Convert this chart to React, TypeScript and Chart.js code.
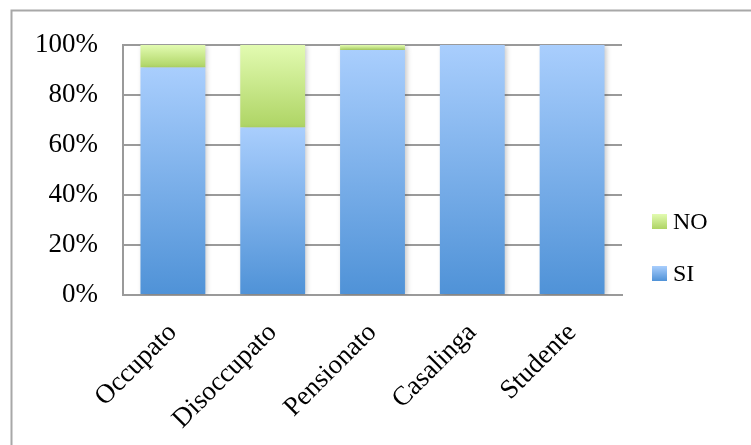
import React, { useEffect, useRef } from "react";
import { Chart, registerables } from "chart.js";

Chart.register(...registerables);

const categories = ["Occupato", "Disoccupato", "Pensionato", "Casalinga", "Studente"];
const siValues = [91, 67, 98, 100, 100];
const noValues = [9, 33, 2, 0, 0];
const yTicks = [0, 20, 40, 60, 80, 100];

const FONT = "'Liberation Serif', 'Times New Roman', serif";
const BLUE_TOP = "#a9cefd";
const BLUE_BOTTOM = "#4f92d7";
const GREEN_TOP = "#e2fbb1";
const GREEN_BOTTOM = "#aed464";

function segGradient(ctx: any, top: string, bottom: string, fallback: string) {
  const chart = ctx.chart;
  const area = chart.chartArea;
  if (!area || ctx.type !== "data") return fallback;
  const yScale = chart.scales.y;
  const di = ctx.datasetIndex;
  const idx = ctx.dataIndex;
  let base = 0;
  for (let d = 0; d < di; d++) base += Number(chart.data.datasets[d].data[idx]) || 0;
  const val = Number(chart.data.datasets[di].data[idx]) || 0;
  const yTop = yScale.getPixelForValue(base + val);
  const yBot = yScale.getPixelForValue(base);
  if (!isFinite(yTop) || !isFinite(yBot) || Math.abs(yBot - yTop) < 0.5) return fallback;
  const g = chart.ctx.createLinearGradient(0, yTop, 0, yBot);
  g.addColorStop(0, top);
  g.addColorStop(1, bottom);
  return g;
}

const framePlugin = {
  id: "frame",
  beforeDraw(chart: any) {
    const c = chart.ctx;
    c.save();
    c.fillStyle = "#ffffff";
    c.fillRect(0, 0, chart.width, chart.height);
    c.strokeStyle = "#a8a8a8";
    c.lineWidth = 2;
    c.beginPath();
    c.moveTo(11.5, chart.height + 5);
    c.lineTo(11.5, 10.5);
    c.lineTo(chart.width + 5, 10.5);
    c.stroke();
    c.restore();
  },
};

const shadowPlugin = {
  id: "barShadow",
  beforeDatasetsDraw(chart: any) {
    const c = chart.ctx;
    c.save();
    c.shadowColor = "rgba(0,0,0,0.22)";
    c.shadowBlur = 5;
    c.shadowOffsetX = 2;
    c.shadowOffsetY = 1;
  },
  afterDatasetsDraw(chart: any) {
    chart.ctx.restore();
  },
};

const legendPlugin = {
  id: "customLegend",
  afterDraw(chart: any) {
    const c = chart.ctx;
    const items = [
      { label: "NO", top: GREEN_TOP, bottom: GREEN_BOTTOM, y: 214 },
      { label: "SI", top: BLUE_TOP, bottom: BLUE_BOTTOM, y: 266 },
    ];
    const x = chart.chartArea.right + 30;
    c.save();
    for (const it of items) {
      const g = c.createLinearGradient(0, it.y, 0, it.y + 15);
      g.addColorStop(0, it.top);
      g.addColorStop(1, it.bottom);
      c.fillStyle = g;
      c.fillRect(x, it.y, 15, 15);
      c.fillStyle = "#000";
      c.font = `24px ${FONT}`;
      c.textBaseline = "middle";
      c.textAlign = "left";
      c.fillText(it.label, x + 21, it.y + 9);
    }
    c.restore();
  },
};

export default function App() {
  const ref = useRef<HTMLCanvasElement | null>(null);
  useEffect(() => {
    if (!ref.current) return;
    const chart = new Chart(ref.current, {
      type: "bar",
      data: {
        labels: categories,
        datasets: [
          {
            label: "SI",
            data: siValues,
            backgroundColor: (ctx: any) => segGradient(ctx, BLUE_TOP, BLUE_BOTTOM, BLUE_BOTTOM),
            borderWidth: 0,
            categoryPercentage: 0.65,
            barPercentage: 1,
          },
          {
            label: "NO",
            data: noValues,
            backgroundColor: (ctx: any) => segGradient(ctx, GREEN_TOP, GREEN_BOTTOM, GREEN_BOTTOM),
            borderWidth: 0,
            categoryPercentage: 0.65,
            barPercentage: 1,
          },
        ],
      },
      options: {
        animation: false,
        responsive: false,
        maintainAspectRatio: false,
        layout: { padding: { top: 45, right: 129, left: 0, bottom: 0 } },
        plugins: {
          legend: { display: false },
          tooltip: { enabled: false },
        },
        scales: {
          x: {
            stacked: true,
            grid: { display: false, drawTicks: false },
            border: { display: true, color: "#9a9a9a", width: 2 },
            ticks: {
              color: "#000",
              font: { family: FONT, size: 27 },
              minRotation: 45,
              maxRotation: 45,
              padding: 22,
            },
            afterFit: (s: any) => {
              s.height = 150;
            },
          },
          y: {
            stacked: true,
            min: 0,
            max: 100,
            afterBuildTicks: (s: any) => {
              s.ticks = yTicks.map((v) => ({ value: v }));
            },
            grid: { color: "#9a9a9a", lineWidth: 2, drawTicks: false },
            border: { display: true, color: "#9a9a9a", width: 2 },
            ticks: {
              color: "#000",
              font: { family: FONT, size: 27 },
              padding: 25,
              callback: (v: any) => `${v}%`,
            },
            afterFit: (s: any) => {
              s.width = 123;
            },
          },
        },
      },
      plugins: [framePlugin, shadowPlugin, legendPlugin],
    });
    return () => chart.destroy();
  }, []);
  return (
    <div style={{ position: "fixed", left: 0, top: 0, width: 751, height: 445, background: "#fff" }}>
      <canvas ref={ref} width={751} height={445} style={{ width: 751, height: 445, display: "block" }} />
    </div>
  );
}
